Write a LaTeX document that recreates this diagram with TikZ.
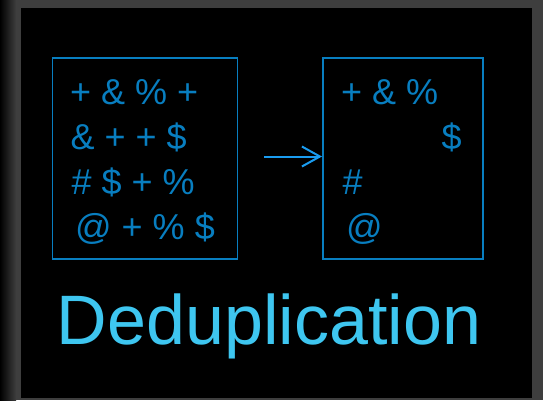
\documentclass[tikz,border=0pt]{standalone}
\usepackage{fontspec}
\setmainfont{Liberation Sans}
\usetikzlibrary{arrows.meta}
\definecolor{framegray}{RGB}{62,62,62}
\definecolor{boxblue}{RGB}{8,126,192}
\definecolor{arrowblue}{RGB}{26,156,240}
\definecolor{titleblue}{RGB}{62,198,240}
\tikzset{
  panel/.style={draw=boxblue, line width=1.5pt, minimum height=201pt, inner sep=0pt},
  sym/.style={text=boxblue, font=\fontsize{36}{36}\selectfont, anchor=base west, inner sep=0pt},
  flow/.style={draw=arrowblue, line width=2pt, -{Straight Barb[length=18pt,width=20pt]}},
  title/.style={text=titleblue, font=\fontsize{70}{70}\selectfont, anchor=base, inner sep=0pt}
}
\begin{document}
\begin{tikzpicture}[x=1pt,y=-1pt]
\useasboundingbox (0,0) rectangle (543,400);
\fill[framegray] (0,0) rectangle (543,400);
\shade[left color=black, right color=framegray] (0,0) rectangle (16,400);
\fill[black] (21,8) rectangle (532,398);
\node[panel, minimum width=185pt] (lbox) at (145,158.5) {};
\node[panel, minimum width=160pt] (rbox) at (403,158.5) {};
\node[sym] (l1) at (70,104) {+ \& \% +};
\node[sym] (l2) at (70.5,149) {\& + + \$};
\node[sym] (l3) at (71.5,194) {\# \$ + \%};
\node[sym] (l4) at (75,239) {@ + \% \$};
\node[sym] (r1) at (341,104) {+ \& \%};
\node[sym] (r2) at (441.5,149) {\$};
\node[sym] (r3) at (342.5,194) {\#};
\node[sym] (r4) at (346,239) {@};
\coordinate (a1) at (264,156.5);
\coordinate (a2) at (322,156.5);
\draw[flow] (a1) -- (a2);
\node[title] (t) at (269,344) {Deduplication};
\end{tikzpicture}
\end{document}
